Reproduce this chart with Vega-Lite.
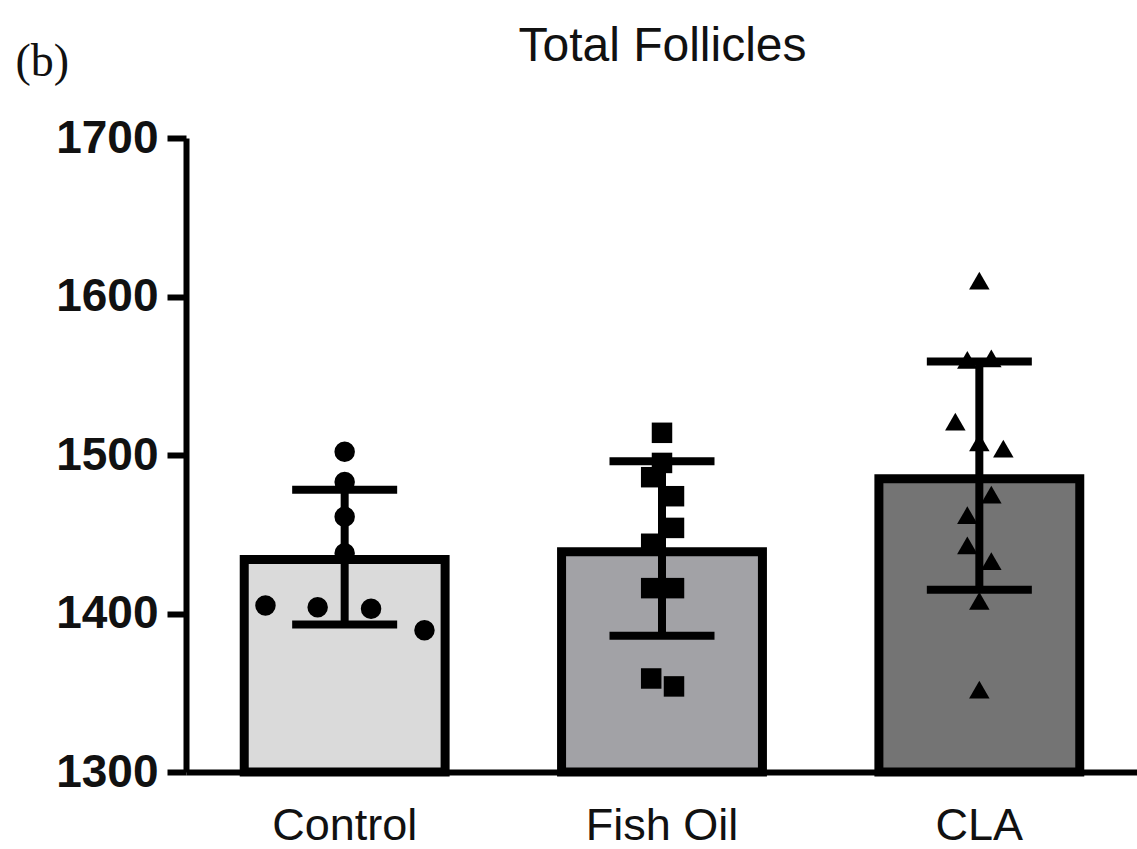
{
  "$schema": "https://vega.github.io/schema/vega-lite/v6.json",
  "autosize": "none",
  "width": 952,
  "height": 634,
  "padding": {"left": 186, "top": 138, "right": 0, "bottom": 77},
  "background": "white",
  "datasets": {
    "summary": [
      {"group": "Control", "mean": 1434, "lower": 1393, "upper": 1478},
      {"group": "Fish Oil", "mean": 1439, "lower": 1386, "upper": 1496},
      {"group": "CLA", "mean": 1485, "lower": 1415, "upper": 1559}
    ],
    "points": [
      {"group": "Control", "value": 1502, "spread": 0},
      {"group": "Control", "value": 1483, "spread": 0},
      {"group": "Control", "value": 1461, "spread": 0},
      {"group": "Control", "value": 1438, "spread": 0},
      {"group": "Control", "value": 1405, "spread": -6.6},
      {"group": "Control", "value": 1404, "spread": -2.25},
      {"group": "Control", "value": 1403, "spread": 2.2},
      {"group": "Control", "value": 1389.5, "spread": 6.65},
      {"group": "Fish Oil", "value": 1514, "spread": 0},
      {"group": "Fish Oil", "value": 1495, "spread": 0},
      {"group": "Fish Oil", "value": 1486, "spread": -0.9},
      {"group": "Fish Oil", "value": 1474, "spread": 1},
      {"group": "Fish Oil", "value": 1454, "spread": 1},
      {"group": "Fish Oil", "value": 1444, "spread": -0.9},
      {"group": "Fish Oil", "value": 1416, "spread": -0.9},
      {"group": "Fish Oil", "value": 1416, "spread": 1},
      {"group": "Fish Oil", "value": 1359, "spread": -0.9},
      {"group": "Fish Oil", "value": 1354, "spread": 1},
      {"group": "CLA", "value": 1610, "spread": 0},
      {"group": "CLA", "value": 1560, "spread": -1},
      {"group": "CLA", "value": 1561, "spread": 1},
      {"group": "CLA", "value": 1521, "spread": -2},
      {"group": "CLA", "value": 1508, "spread": 0},
      {"group": "CLA", "value": 1504, "spread": 2},
      {"group": "CLA", "value": 1475, "spread": 1},
      {"group": "CLA", "value": 1462, "spread": -1},
      {"group": "CLA", "value": 1443, "spread": -1},
      {"group": "CLA", "value": 1433, "spread": 1},
      {"group": "CLA", "value": 1408, "spread": 0},
      {"group": "CLA", "value": 1352, "spread": 0}
    ]
  },
  "config": {
    "view": {"stroke": null},
    "axis": {
      "grid": false,
      "domainColor": "#000000",
      "domainWidth": 6,
      "tickColor": "#000000",
      "tickWidth": 6,
      "labelColor": "#111111"
    }
  },
  "resolve": {"scale": {"xOffset": "independent"}},
  "layer": [
    {
      "data": {"name": "summary"},
      "mark": {"type": "bar", "stroke": "#000000", "strokeWidth": 9},
      "encoding": {
        "x": {
          "field": "group",
          "type": "nominal",
          "sort": ["Control", "Fish Oil", "CLA"],
          "title": "Total Follicles",
          "scale": {"paddingInner": 0.367, "paddingOuter": 0.1835},
          "axis": {
            "labelAngle": 0,
            "ticks": false,
            "tickSize": 0,
            "labelFont": "Liberation Sans",
            "labelFontSize": 45,
            "labelFontWeight": "normal",
            "labelPadding": 31,
            "labelBaseline": "top",
            "titleFont": "Liberation Sans",
            "titleFontSize": 48,
            "titleFontWeight": "normal",
            "titleColor": "#111111",
            "titleAngle": 0,
            "titleAlign": "center",
            "titleBaseline": "alphabetic",
            "titleX": 476,
            "titleY": -712
          }
        },
        "y": {
          "field": "mean",
          "type": "quantitative",
          "title": "(b)",
          "scale": {"domain": [1300, 1700], "zero": false, "nice": false},
          "axis": {
            "values": [1300, 1400, 1500, 1600, 1700],
            "format": "d",
            "tickSize": 19,
            "labelFont": "Liberation Sans",
            "labelFontSize": 46,
            "labelFontWeight": "bold",
            "labelPadding": 9,
            "labelColor": "#111111",
            "titleFont": "Liberation Serif",
            "titleFontSize": 46,
            "titleFontWeight": "normal",
            "titleColor": "#111111",
            "titleAngle": 0,
            "titleAlign": "left",
            "titleBaseline": "alphabetic",
            "titleX": -171,
            "titleY": -63
          }
        },
        "y2": {"datum": 1300},
        "fill": {
          "field": "group",
          "type": "nominal",
          "scale": {"domain": ["Control", "Fish Oil", "CLA"], "range": ["#dadada", "#a2a2a6", "#747474"]},
          "legend": null
        }
      }
    },
    {
      "data": {"name": "summary"},
      "mark": {"type": "rule", "color": "#000000", "strokeWidth": 8},
      "encoding": {
        "x": {"field": "group", "type": "nominal", "sort": ["Control", "Fish Oil", "CLA"], "title": "Total Follicles"},
        "y": {"field": "lower", "type": "quantitative", "title": "(b)"},
        "y2": {"field": "upper"}
      }
    },
    {
      "data": {"name": "summary"},
      "mark": {"type": "tick", "color": "#000000", "size": 105, "thickness": 8, "opacity": 1},
      "encoding": {
        "x": {"field": "group", "type": "nominal", "sort": ["Control", "Fish Oil", "CLA"], "title": "Total Follicles"},
        "y": {"field": "upper", "type": "quantitative", "title": "(b)"}
      }
    },
    {
      "data": {"name": "summary"},
      "mark": {"type": "tick", "color": "#000000", "size": 105, "thickness": 8, "opacity": 1},
      "encoding": {
        "x": {"field": "group", "type": "nominal", "sort": ["Control", "Fish Oil", "CLA"], "title": "Total Follicles"},
        "y": {"field": "lower", "type": "quantitative", "title": "(b)"}
      }
    },
    {
      "data": {"name": "points"},
      "mark": {"type": "point", "filled": true, "color": "#000000", "opacity": 1, "size": 420},
      "encoding": {
        "x": {"field": "group", "type": "nominal", "sort": ["Control", "Fish Oil", "CLA"], "title": "Total Follicles"},
        "xOffset": {"field": "spread", "type": "quantitative", "scale": {"domain": [-10, 10], "range": [-19.57, 220.43]}},
        "y": {"field": "value", "type": "quantitative", "title": "(b)"},
        "shape": {
          "field": "group",
          "type": "nominal",
          "scale": {"domain": ["Control", "Fish Oil", "CLA"], "range": ["circle", "square", "triangle-up"]},
          "legend": null
        }
      }
    }
  ]
}
